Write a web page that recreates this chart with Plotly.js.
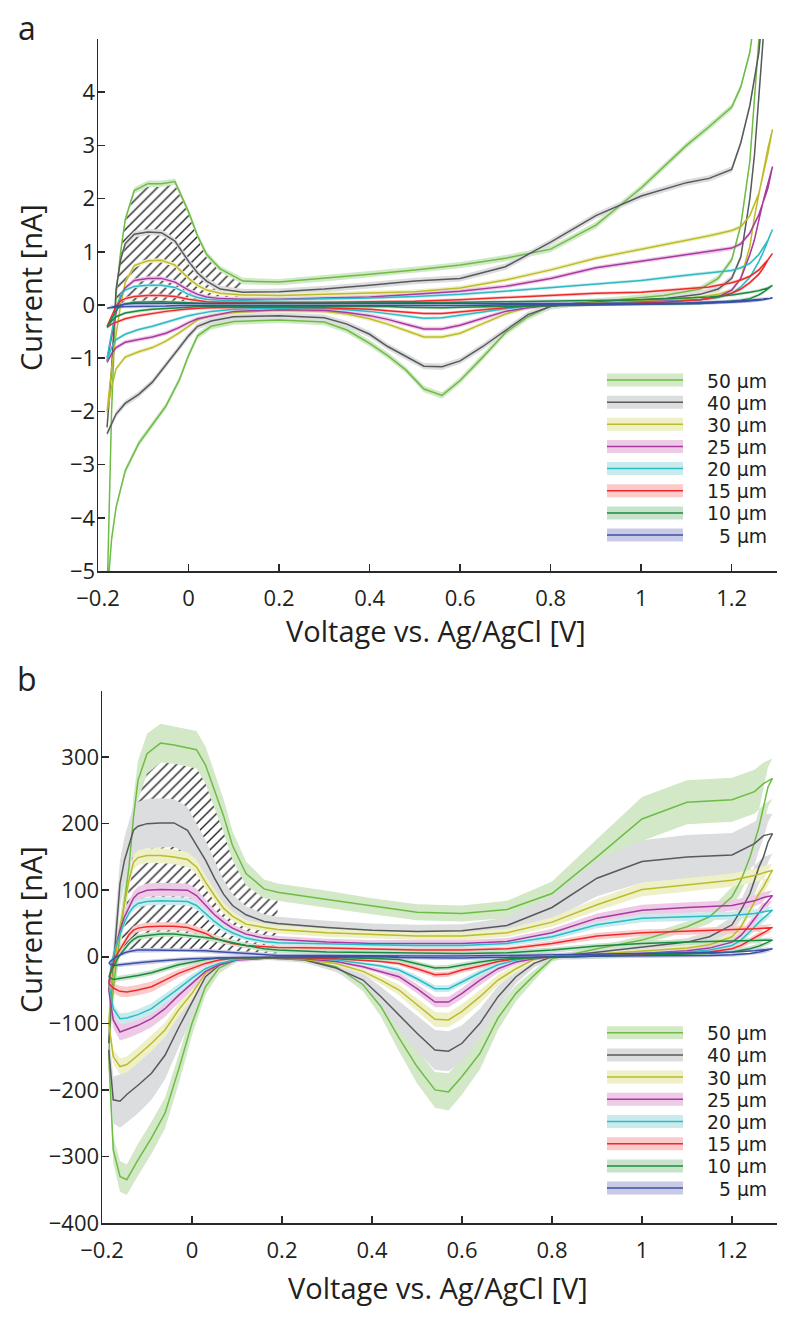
<!DOCTYPE html>
<html><head><meta charset="utf-8">
<script src="https://cdn.plot.ly/plotly-3.0.1.min.js"></script>
<style>html,body{margin:0;padding:0;background:#fff}#chart{width:800px;height:1319px}</style>
</head><body><div id="chart"></div>
<script>
// ---------- series meta ----------
const seriesNames = ['50 \u00b5m','40 \u00b5m','30 \u00b5m','25 \u00b5m','20 \u00b5m','15 \u00b5m','10 \u00b5m','5 \u00b5m'];
const lineColors  = ['#6dbd45','#58595b','#bdbb2a','#a8399f','#2bbcc4','#ee2a2a','#1b8a40','#3b50a5'];
const bandColors  = ['#d2e8c7','#dcdddf','#eef0c8','#edcbe6','#c9ebee','#fbcaca','#c7e3c9','#c9cbe6'];

// ---------- ticks ----------
const xTickVals = [-0.2,0,0.2,0.4,0.6,0.8,1,1.2];
const xTickText = ['\u22120.2','0','0.2','0.4','0.6','0.8','1','1.2'];
const yTickValsA = [-5,-4,-3,-2,-1,0,1,2,3,4];
const yTickTextA = ['\u22125','\u22124','\u22123','\u22122','\u22121','0','1','2','3','4'];
const yTickValsB = [-400,-300,-200,-100,0,100,200,300];
const yTickTextB = ['\u2212400','\u2212300','\u2212200','\u2212100','0','100','200','300'];

// ---------- panel a: voltage grids (V) ----------
const vFwdA = [-0.18,-0.17,-0.16,-0.15,-0.14,-0.12,-0.09,-0.06,-0.03,0,0.02,0.04,0.07,0.12,0.2,0.3,0.4,0.5,0.6,0.7,0.8,0.9,1.0,1.1,1.15,1.2,1.22,1.24,1.26,1.28,1.29];
const vRevA = [1.29,1.28,1.27,1.26,1.25,1.24,1.22,1.2,1.17,1.13,1.05,0.95,0.85,0.8,0.75,0.7,0.65,0.6,0.56,0.52,0.48,0.44,0.4,0.35,0.3,0.2,0.1,0.05,0.02,0,-0.02,-0.05,-0.08,-0.11,-0.14,-0.16,-0.17,-0.18];

// ---------- panel a: currents (nA) ----------
const fwdA50 = [-5.5,-2.0,0.2,1.0,1.6,2.15,2.28,2.28,2.32,1.75,1.3,0.95,0.68,0.45,0.43,0.5,0.58,0.66,0.75,0.88,1.05,1.5,2.2,3.0,3.35,3.72,4.1,4.75,6.0,8.5,10];
const revA50 = [10,7.5,6.0,5.0,3.9,2.7,1.5,0.85,0.5,0.3,0.18,0.1,0.03,-0.02,-0.22,-0.52,-0.98,-1.42,-1.7,-1.58,-1.22,-0.95,-0.72,-0.47,-0.32,-0.28,-0.31,-0.4,-0.58,-0.95,-1.4,-1.9,-2.25,-2.6,-3.12,-3.8,-4.4,-5.5];
const fwdA40 = [-2.3,-1.2,0.3,0.85,1.15,1.33,1.37,1.36,1.2,0.82,0.6,0.45,0.3,0.24,0.25,0.3,0.37,0.45,0.5,0.72,1.18,1.68,2.05,2.3,2.38,2.55,3.05,3.75,4.75,6.5,7.5];
const revA40 = [7.5,6.2,5.0,3.8,2.8,2.0,0.9,0.5,0.3,0.2,0.12,0.08,0.03,-0.03,-0.18,-0.48,-0.78,-1.05,-1.16,-1.15,-0.97,-0.78,-0.55,-0.36,-0.24,-0.2,-0.22,-0.3,-0.4,-0.58,-0.8,-1.12,-1.45,-1.68,-1.85,-2.05,-2.25,-2.42];
const fwdA30 = [-2.0,-1.2,-0.55,0.0,0.42,0.74,0.83,0.84,0.75,0.5,0.37,0.28,0.22,0.19,0.18,0.2,0.23,0.25,0.32,0.47,0.66,0.88,1.05,1.22,1.3,1.4,1.47,1.68,2.1,2.85,3.3];
const revA30 = [3.3,2.95,2.5,2.05,1.65,1.1,0.5,0.28,0.2,0.15,0.1,0.06,0.02,0,-0.04,-0.17,-0.35,-0.53,-0.6,-0.6,-0.48,-0.36,-0.26,-0.17,-0.12,-0.1,-0.14,-0.2,-0.28,-0.4,-0.52,-0.68,-0.8,-0.88,-0.98,-1.2,-1.55,-2.02];
const fwdA25 = [-1.05,-0.6,-0.15,0.15,0.32,0.46,0.5,0.5,0.43,0.28,0.2,0.15,0.12,0.11,0.11,0.13,0.15,0.2,0.26,0.35,0.5,0.7,0.82,0.95,1.0,1.07,1.15,1.35,1.7,2.2,2.6];
const revA25 = [2.6,2.3,1.97,1.6,1.22,0.95,0.5,0.28,0.15,0.1,0.07,0.04,0.01,-0.01,-0.05,-0.12,-0.25,-0.38,-0.45,-0.45,-0.36,-0.27,-0.2,-0.14,-0.1,-0.09,-0.12,-0.2,-0.26,-0.33,-0.42,-0.53,-0.6,-0.65,-0.7,-0.8,-0.92,-1.08];
const fwdA20 = [-1.0,-0.5,-0.05,0.18,0.28,0.35,0.37,0.37,0.33,0.2,0.14,0.11,0.09,0.09,0.1,0.11,0.13,0.16,0.2,0.26,0.33,0.4,0.46,0.56,0.6,0.65,0.7,0.78,0.95,1.22,1.42];
const revA20 = [1.42,1.2,1.0,0.82,0.66,0.52,0.34,0.22,0.14,0.1,0.06,0.04,0.01,-0.01,-0.03,-0.07,-0.13,-0.2,-0.24,-0.25,-0.21,-0.16,-0.12,-0.09,-0.07,-0.06,-0.08,-0.12,-0.16,-0.2,-0.25,-0.33,-0.4,-0.46,-0.55,-0.65,-0.8,-1.05];
const fwdA15 = [-0.4,-0.2,-0.02,0.08,0.12,0.16,0.18,0.18,0.16,0.11,0.08,0.06,0.05,0.05,0.04,0.05,0.06,0.07,0.1,0.14,0.18,0.22,0.24,0.3,0.34,0.42,0.47,0.54,0.66,0.85,0.97];
const revA15 = [0.97,0.85,0.7,0.58,0.5,0.42,0.3,0.22,0.15,0.1,0.05,0.02,0,-0.01,-0.02,-0.05,-0.09,-0.13,-0.16,-0.16,-0.14,-0.11,-0.08,-0.06,-0.05,-0.04,-0.04,-0.05,-0.06,-0.07,-0.09,-0.12,-0.16,-0.2,-0.26,-0.32,-0.36,-0.42];
const fwdA10 = [-0.42,-0.25,-0.1,-0.01,0.02,0.05,0.06,0.06,0.05,0.04,0.03,0.03,0.03,0.03,0.03,0.03,0.03,0.04,0.05,0.06,0.07,0.09,0.1,0.13,0.15,0.19,0.21,0.24,0.27,0.32,0.37];
const revA10 = [0.37,0.3,0.24,0.19,0.15,0.12,0.09,0.07,0.05,0.03,0.02,0.01,0,-0.01,-0.01,-0.02,-0.03,-0.04,-0.05,-0.05,-0.04,-0.03,-0.03,-0.02,-0.02,-0.02,-0.02,-0.02,-0.03,-0.04,-0.05,-0.06,-0.08,-0.11,-0.15,-0.22,-0.3,-0.42];
const fwdA5  = [-0.06,-0.04,-0.01,0.01,0.02,0.03,0.03,0.03,0.03,0.03,0.03,0.02,0.02,0.02,0.02,0.02,0.02,0.02,0.02,0.02,0.02,0.03,0.03,0.04,0.05,0.07,0.08,0.09,0.1,0.12,0.13];
const revA5  = [0.13,0.11,0.1,0.09,0.08,0.07,0.06,0.05,0.04,0.03,0.02,0.01,0.01,0,0,0,-0.01,-0.01,-0.01,-0.01,-0.01,-0.01,0,0,0,0,0,0,0,-0.01,-0.01,-0.02,-0.02,-0.03,-0.03,-0.04,-0.05,-0.06];
const stdA = [0.06,0.06,0.04,0.04,0.03,0.03,0.03,0.03];
const hatchRangeA = [-0.16, 0.12];

// ---------- panel b: voltage grids (V) ----------
const vFwdB = [-0.185,-0.18,-0.17,-0.16,-0.15,-0.14,-0.13,-0.12,-0.1,-0.07,-0.04,-0.01,0.01,0.03,0.05,0.07,0.09,0.12,0.16,0.19,0.3,0.4,0.5,0.6,0.7,0.8,0.9,1.0,1.1,1.2,1.25,1.27,1.29];
const vRevB = [1.29,1.28,1.27,1.26,1.24,1.22,1.2,1.15,1.1,1.0,0.9,0.85,0.8,0.76,0.72,0.68,0.64,0.6,0.57,0.54,0.5,0.46,0.42,0.38,0.32,0.25,0.17,0.1,0.06,0.03,0,-0.03,-0.06,-0.09,-0.12,-0.145,-0.16,-0.175,-0.185];

// ---------- panel b: currents (nA) and spreads ----------
const fwdB50 = [-150,-80,-20,30,80,135,210,265,305,321,318,314,311,288,250,212,167,125,102,97,86,76,67,65,71,95,150,207,232,236,248,260,268];
const revB50 = [268,255,225,195,150,115,90,60,45,25,12,5,-3,-28,-55,-92,-145,-180,-203,-200,-165,-122,-75,-42,-15,-4,-1,-4,-17,-45,-100,-170,-235,-272,-305,-335,-330,-290,-150];
const sdFwdB50 = [25,25,25,25,28,30,30,30,30,29,28,28,28,28,27,25,22,18,14,13,13,12,12,12,13,18,27,33,33,33,33,32,30];
const sdRevB50 = [30,30,28,26,22,18,15,10,8,6,4,4,4,8,12,18,24,27,28,27,25,20,15,10,6,4,3,4,8,12,18,22,23,24,24,23,23,20,15];
const fwdB40 = [-130,-60,25,110,145,168,190,196,200,201,201,190,168,145,118,94,77,63,53,50,44,40,38,39,47,74,118,143,150,153,170,182,185];
const revB40 = [185,172,150,135,95,70,48,30,22,14,7,3,0,-10,-30,-60,-100,-130,-142,-140,-115,-88,-60,-35,-17,-5,-2,-4,-13,-30,-68,-107,-148,-175,-193,-207,-217,-215,-140];
const sdFwdB40 = [35,35,35,35,35,36,37,37,37,37,36,35,33,30,27,22,17,13,11,10,10,10,10,10,12,18,27,32,33,33,33,32,30];
const sdRevB40 = [30,30,28,25,20,15,12,8,6,5,4,4,4,6,10,16,22,27,30,30,27,22,15,10,6,4,3,4,8,14,22,30,36,40,42,42,40,35,30];
const fwdB30 = [-100,-50,0,45,80,115,142,149,152,152,150,146,135,112,92,73,61,49,44,41,36,33,31,31,36,52,78,101,108,115,122,126,130];
const revB30 = [130,118,105,95,70,45,30,18,13,8,4,2,0,-4,-18,-35,-60,-82,-95,-94,-72,-50,-35,-22,-10,-4,-2,-3,-12,-25,-55,-80,-110,-130,-148,-162,-165,-150,-100];
const sdFwdB30 = [10,10,10,10,10,10,11,11,11,11,11,11,11,10,9,8,7,6,6,6,6,6,6,6,6,7,9,10,10,10,10,10,10];
const sdRevB30 = [10,10,10,9,8,7,6,5,4,3,3,3,3,4,6,8,10,11,11,11,10,8,6,4,3,2,2,2,4,6,9,10,11,12,12,12,12,11,10];
const fwdB25 = [-50,-20,15,40,60,75,88,95,100,101,101,100,92,78,63,52,43,34,28,26,22,20,20,20,23,36,58,70,74,77,84,89,92];
const revB25 = [92,84,76,66,48,32,22,13,9,5,3,1,0,-3,-8,-18,-35,-55,-68,-68,-48,-30,-22,-15,-7,-3,-2,-5,-12,-22,-40,-58,-78,-93,-103,-110,-113,-95,-50];
const sdFwdB25 = [10,10,10,10,10,10,10,10,10,10,10,10,10,9,8,7,6,5,5,5,5,5,5,5,5,6,7,8,8,8,8,8,8];
const sdRevB25 = [8,8,8,8,7,6,5,4,3,3,2,2,2,3,4,6,8,8,8,8,7,6,4,3,2,2,2,3,4,6,9,11,12,13,13,13,13,12,10];
const fwdB20 = [-40,-15,15,35,52,66,75,80,83,84,84,83,77,65,53,43,36,28,23,21,19,18,17,17,20,30,48,58,60,62,65,67,70];
const revB20 = [70,64,58,52,38,25,17,10,7,4,2,1,0,-2,-5,-12,-24,-38,-48,-48,-33,-20,-14,-10,-5,-2,-1,-4,-10,-18,-32,-48,-63,-78,-87,-92,-93,-78,-40];
const sdFwdB20 = [6,6,6,6,6,6,6,6,6,6,6,6,6,6,6,5,5,4,4,4,4,4,4,4,4,5,5,6,6,6,6,6,6];
const sdRevB20 = [6,6,6,6,5,5,4,3,3,2,2,2,2,2,3,4,5,5,5,5,5,4,3,2,2,2,2,2,3,4,6,7,8,8,8,8,8,7,6];
const fwdB15 = [-40,-20,0,12,22,33,40,43,45,46,46,44,40,35,28,24,20,17,15,14,13,11,10,10,12,20,31,36,38,40,42,43,44];
const revB15 = [44,40,36,32,24,17,12,7,5,3,1,0,0,-1,-3,-7,-14,-20,-26,-27,-18,-10,-7,-5,-3,-2,-1,-2,-5,-10,-17,-25,-35,-45,-50,-53,-52,-47,-40];
const sdFwdB15 = [5,5,5,5,5,5,6,6,6,6,6,6,6,5,5,5,4,4,3,3,3,3,3,3,3,4,5,5,5,5,5,5,5];
const sdRevB15 = [5,5,5,5,4,4,3,3,2,2,2,2,2,2,2,3,4,4,4,4,4,3,2,2,2,2,2,2,3,4,5,6,7,8,8,8,8,7,6];
const fwdB10 = [-30,-22,-8,3,12,20,26,30,32,34,34,32,31,29,27,24,21,17,12,10,7,6,5,5,6,10,16,20,22,23,24,24,25];
const revB10 = [25,22,19,16,12,9,7,5,4,2,1,0,0,-1,-2,-4,-8,-12,-16,-17,-10,-4,-3,-2,-1,-1,-1,-1,-2,-4,-8,-12,-18,-24,-28,-31,-33,-34,-30];
const sdB10 = 4;
const fwdB5 = [-10,-6,-1,3,6,8,9,10,10,10,10,10,9,9,8,7,6,5,3,2,2,1,1,1,2,3,4,5,6,7,9,10,12];
const revB5 = [12,10,8,7,5,4,3,2,2,1,1,0,0,0,0,-1,-1,-2,-2,-2,-1,-1,0,0,0,-1,-1,-1,-2,-2,-3,-4,-5,-7,-9,-11,-12,-13,-10];
const sdB5 = 3;
const hatchRangeB = [-0.17, 0.19];

// ---------- tables built from the arrays ----------
const panelA = {
  vf: vFwdA, vr: vRevA,
  fwd: [fwdA50,fwdA40,fwdA30,fwdA25,fwdA20,fwdA15,fwdA10,fwdA5],
  rev: [revA50,revA40,revA30,revA25,revA20,revA15,revA10,revA5],
  sdf: stdA, sdr: stdA, xa: 'x', ya: 'y', hatch: hatchRangeA
};
const panelB = {
  vf: vFwdB, vr: vRevB,
  fwd: [fwdB50,fwdB40,fwdB30,fwdB25,fwdB20,fwdB15,fwdB10,fwdB5],
  rev: [revB50,revB40,revB30,revB25,revB20,revB15,revB10,revB5],
  sdf: [sdFwdB50,sdFwdB40,sdFwdB30,sdFwdB25,sdFwdB20,sdFwdB15,sdB10,sdB5],
  sdr: [sdRevB50,sdRevB40,sdRevB30,sdRevB25,sdRevB20,sdRevB15,sdB10,sdB5],
  xa: 'x2', ya: 'y2', hatch: hatchRangeB
};

function sdAt(s, i) { return Array.isArray(s) ? s[i] : s; }
function bandPoly(xs, ys, s) {
  const n = Math.min(xs.length, ys.length);
  const bx = [], up = [], lo = [];
  for (let i = 0; i < n; i++) { bx.push(xs[i]); up.push(ys[i] + sdAt(s, i)); lo.push(ys[i] - sdAt(s, i)); }
  return { x: bx.concat(bx.slice().reverse()), y: up.concat(lo.slice().reverse()) };
}

const traces = [];
function addPanel(P) {
  // hatched region between largest and smallest electrode forward sweeps
  const top = P.fwd[0], bot = P.fwd[7];
  const idx = [];
  P.vf.forEach((v, i) => { if (v >= P.hatch[0] - 1e-9 && v <= P.hatch[1] + 1e-9) idx.push(i); });
  const hx = idx.map(i => P.vf[i]);
  traces.push({
    type: 'scatter', mode: 'lines', xaxis: P.xa, yaxis: P.ya,
    x: hx.concat(hx.slice().reverse()),
    y: idx.map(i => top[i]).concat(idx.map(i => bot[i]).reverse()),
    fill: 'toself', fillcolor: 'rgba(255,255,255,0)',
    fillpattern: { shape: '/', fgcolor: '#222222', bgcolor: 'rgba(255,255,255,0)', size: 7, solidity: 0.2, fillmode: 'replace' },
    line: { width: 0 }, hoverinfo: 'skip', showlegend: false
  });
  // spread bands
  for (let k = 0; k < 8; k++) {
    const a = bandPoly(P.vf, P.fwd[k], P.sdf[k]), b = bandPoly(P.vr, P.rev[k], P.sdr[k]);
    traces.push({
      type: 'scatter', mode: 'lines', xaxis: P.xa, yaxis: P.ya,
      x: a.x.concat([null], b.x), y: a.y.concat([null], b.y),
      fill: 'toself', fillcolor: bandColors[k], line: { width: 0 },
      hoverinfo: 'skip', showlegend: false
    });
  }
  // mean curves (forward then reverse sweep)
  for (let k = 0; k < 8; k++) {
    traces.push({
      type: 'scatter', mode: 'lines', xaxis: P.xa, yaxis: P.ya,
      x: P.vf.concat(P.vr), y: P.fwd[k].concat(P.rev[k]),
      line: { color: lineColors[k], width: 1.5 },
      name: seriesNames[k], showlegend: false
    });
  }
}
addPanel(panelA);
addPanel(panelB);

// ---------- layout ----------
const W = 800, H = 1319;
const FONT = 'Open Sans, Noto Sans, sans-serif';
const LEGFONT = 'DejaVu Sans, Open Sans, sans-serif';
const px = v => v / W, py = v => 1 - v / H;

function xAxis(dom, anchor) {
  return {
    domain: dom, anchor: anchor, range: [-0.2, 1.3], tickmode: 'array', tickvals: xTickVals, ticktext: xTickText,
    ticks: 'inside', ticklen: 7, tickwidth: 1.5, tickcolor: '#2a2a2a', showline: true, linecolor: '#2a2a2a', linewidth: 1.5,
    showgrid: false, zeroline: false, tickfont: { family: FONT, size: 22, color: '#231f20' }, ticklabelstandoff: 7, fixedrange: true
  };
}
function yAxis(dom, anchor, rng, tv, tt) {
  return {
    domain: dom, anchor: anchor, range: rng, tickmode: 'array', tickvals: tv, ticktext: tt,
    ticks: 'inside', ticklen: 7, tickwidth: 1.5, tickcolor: '#2a2a2a', showline: true, linecolor: '#2a2a2a', linewidth: 1.5,
    showgrid: false, zeroline: false, tickfont: { family: FONT, size: 22, color: '#231f20' }, ticklabelstandoff: -3, fixedrange: true
  };
}

const shapes = [], annotations = [];
function legend(rowTop, step) {
  for (let k = 0; k < 8; k++) {
    const cy = rowTop + k * step;
    shapes.push({ type: 'rect', xref: 'paper', yref: 'paper', x0: px(607), x1: px(683), y0: py(cy + 6.5), y1: py(cy - 6.5),
      fillcolor: bandColors[k], line: { width: 0 } });
    shapes.push({ type: 'line', xref: 'paper', yref: 'paper', x0: px(607), x1: px(683), y0: py(cy), y1: py(cy),
      line: { color: lineColors[k], width: 1.5 } });
    annotations.push({ xref: 'paper', yref: 'paper', x: px(768), y: py(cy + 1), xanchor: 'right', yanchor: 'middle',
      text: seriesNames[k], showarrow: false, borderpad: 0, font: { family: LEGFONT, size: 18.8, color: '#231f20' } });
  }
}
legend(380, 22.15);
legend(1032.7, 22.2);

function label(text, x, y, size, angle) {
  annotations.push({ xref: 'paper', yref: 'paper', x: px(x), y: py(y), xanchor: 'center', yanchor: 'middle',
    text: text, showarrow: false, textangle: angle || 0, font: { family: FONT, size: size, color: '#231f20' } });
}
label('a', 27, 27, 32);
label('b', 27, 678, 32);
label('Current [nA]', 30, 288, 29, -90);
label('Current [nA]', 30, 930, 29, -90);
label('Voltage vs. Ag/AgCl [V]', 436, 630, 29);
label('Voltage vs. Ag/AgCl [V]', 438, 1287, 29);

const layout = {
  width: W, height: H, margin: { l: 0, r: 0, t: 0, b: 0 },
  paper_bgcolor: '#ffffff', plot_bgcolor: '#ffffff', showlegend: false,
  xaxis: xAxis([px(98), px(777)], 'y'),
  yaxis: yAxis([py(571), py(39)], 'x', [-5, 5], yTickValsA, yTickTextA),
  xaxis2: xAxis([px(102), px(777)], 'y2'),
  yaxis2: yAxis([py(1223), py(690.5)], 'x2', [-400, 400], yTickValsB, yTickTextB),
  shapes: shapes, annotations: annotations
};
Plotly.newPlot('chart', traces, layout, { displayModeBar: false, staticPlot: true });
</script></body></html>
